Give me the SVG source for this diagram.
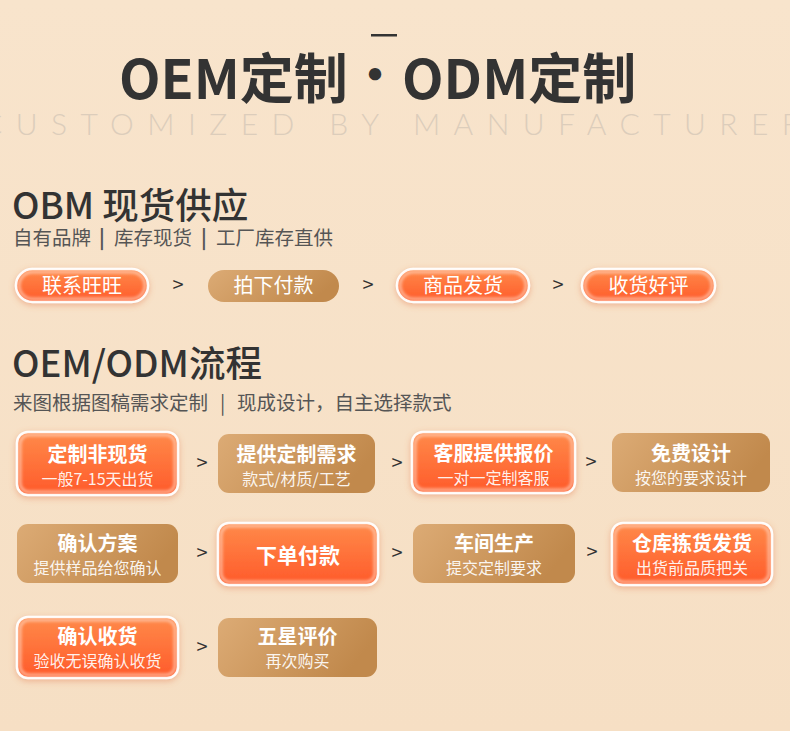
<svg xmlns="http://www.w3.org/2000/svg" width="790" height="731" viewBox="0 0 790 731">
<defs>
<linearGradient id="gOr" x1="0" y1="0" x2="0" y2="1">
<stop offset="0" stop-color="#ff8a4a"/>
<stop offset="1" stop-color="#ff5a2a"/>
</linearGradient>
<linearGradient id="gTan" x1="0" y1="0" x2="1" y2="0.3">
<stop offset="0" stop-color="#dcab75"/>
<stop offset="1" stop-color="#c1894c"/>
</linearGradient>
<linearGradient id="gBg" x1="0" y1="0" x2="0" y2="1">
<stop offset="0" stop-color="#f8e4cc"/>
<stop offset="1" stop-color="#f6dfc4"/>
</linearGradient>
<filter id="sh" x="-20%" y="-40%" width="140%" height="180%">
<feDropShadow dx="0" dy="2" stdDeviation="3" flood-color="#e5794a" flood-opacity="0.45"/>
</filter>
<filter id="blr" x="-10%" y="-20%" width="120%" height="140%">
<feGaussianBlur stdDeviation="1.6"/>
</filter>
</defs>
<style>
text{font-family:"Noto Sans CJK SC","Noto Sans",sans-serif;}
.h1{font-size:54px;font-weight:700;fill:#333333;}
.en{font-family:Lato,"Liberation Sans",sans-serif;font-size:30px;font-weight:300;fill:#dccdbb;}
.h2{font-size:36.5px;font-weight:500;fill:#333333;}
.s2{font-size:19.5px;fill:#555555;}
.or{fill:url(#gOr);stroke:#ffffff;stroke-width:2.5;}
.tan{fill:url(#gTan);}
.ig{fill:none;stroke:#ffd7c2;stroke-width:3;opacity:0.7;}
.pt{font-size:20px;fill:#ffffff;text-anchor:middle;}
.bt{font-size:20px;font-weight:700;fill:#ffffff;text-anchor:middle;}
.bs{font-size:16px;fill:#ffffff;fill-opacity:0.92;text-anchor:middle;}
.gt{font-size:20px;fill:#333333;text-anchor:middle;}
</style>
<rect x="0" y="0" width="790" height="731" fill="url(#gBg)"/>

<g id="header">
<rect x="371" y="34" width="26" height="2.5" fill="#333333"/>
<text class="h1" y="99"><tspan x="119">OEM定制</tspan><tspan x="375" dy="-7" text-anchor="middle" font-size="48">·</tspan><tspan x="402" dy="7">ODM定制</tspan></text>
<text class="en" x="-18" y="135" textLength="818" lengthAdjust="spacing">CUSTOMIZED BY MANUFACTURER</text>
</g>

<g id="section-obm">
<text class="h2" x="12" y="219">OBM 现货供应</text>
<text class="s2" y="245"><tspan x="13">自有品牌</tspan><tspan x="99" font-weight="700">|</tspan><tspan x="114">库存现货</tspan><tspan x="201" font-weight="700">|</tspan><tspan x="216">工厂库存直供</tspan></text>
</g>

<g id="section-oem">
<text class="h2" x="12" y="377">OEM/ODM流程</text>
<text class="s2" y="410"><tspan x="13">来图根据图稿需求定制</tspan><tspan x="220">|</tspan><tspan x="237">现成设计，自主选择款式</tspan></text>
</g>

<g id="connectors">
<text class="gt" x="178" y="292">&gt;</text>
<text class="gt" x="368" y="292">&gt;</text>
<text class="gt" x="558" y="292">&gt;</text>
<text class="gt" x="202" y="470">&gt;</text>
<text class="gt" x="397" y="470">&gt;</text>
<text class="gt" x="591" y="469">&gt;</text>
<text class="gt" x="202" y="560">&gt;</text>
<text class="gt" x="397" y="560">&gt;</text>
<text class="gt" x="592" y="559">&gt;</text>
<text class="gt" x="202" y="654">&gt;</text>
</g>

<g id="pill-1">
<rect class="or" x="16" y="269" width="132" height="33" rx="16.5" filter="url(#sh)"/>
<rect class="ig" x="19" y="272" width="126" height="27" rx="13.5" filter="url(#blr)"/>
<text class="pt" x="82" y="293">联系旺旺</text>
</g>
<g id="pill-2">
<rect class="tan" x="208" y="270" width="131" height="32" rx="16"/>
<text class="pt" x="273.5" y="293">拍下付款</text>
</g>
<g id="pill-3">
<rect class="or" x="397" y="269" width="132" height="33" rx="16.5" filter="url(#sh)"/>
<rect class="ig" x="400" y="272" width="126" height="27" rx="13.5" filter="url(#blr)"/>
<text class="pt" x="463" y="293">商品发货</text>
</g>
<g id="pill-4">
<rect class="or" x="582" y="269" width="133" height="33" rx="16.5" filter="url(#sh)"/>
<rect class="ig" x="585" y="272" width="127" height="27" rx="13.5" filter="url(#blr)"/>
<text class="pt" x="648.5" y="293">收货好评</text>
</g>

<g id="box-1">
<rect class="or" x="17" y="432" width="161" height="63" rx="11" filter="url(#sh)"/>
<rect class="ig" x="20" y="435" width="155" height="57" rx="9" filter="url(#blr)"/>
<text class="bt" x="97.5" y="462">定制非现货</text>
<text class="bs" x="97.5" y="485">一般7-15天出货</text>
</g>
<g id="box-2">
<rect class="tan" x="218" y="434" width="157" height="59" rx="11"/>
<text class="bt" x="296.5" y="462">提供定制需求</text>
<text class="bs" x="296.5" y="485">款式/材质/工艺</text>
</g>
<g id="box-3">
<rect class="or" x="412" y="432" width="163" height="61" rx="11" filter="url(#sh)"/>
<rect class="ig" x="415" y="435" width="157" height="55" rx="9" filter="url(#blr)"/>
<text class="bt" x="493.5" y="461">客服提供报价</text>
<text class="bs" x="493.5" y="484">一对一定制客服</text>
</g>
<g id="box-4">
<rect class="tan" x="612" y="433" width="158" height="59" rx="11"/>
<text class="bt" x="691" y="461">免费设计</text>
<text class="bs" x="691" y="484">按您的要求设计</text>
</g>

<g id="box-5">
<rect class="tan" x="17" y="524" width="161" height="59" rx="11"/>
<text class="bt" x="97.5" y="551">确认方案</text>
<text class="bs" x="97.5" y="574">提供样品给您确认</text>
</g>
<g id="box-6">
<rect class="or" x="218" y="523" width="160" height="62" rx="11" filter="url(#sh)"/>
<rect class="ig" x="221" y="526" width="154" height="56" rx="9" filter="url(#blr)"/>
<text class="bt" x="298" y="563" style="font-size:21px">下单付款</text>
</g>
<g id="box-7">
<rect class="tan" x="413" y="524" width="162" height="59" rx="11"/>
<text class="bt" x="494" y="551">车间生产</text>
<text class="bs" x="494" y="574">提交定制要求</text>
</g>
<g id="box-8">
<rect class="or" x="612" y="523" width="160" height="62" rx="11" filter="url(#sh)"/>
<rect class="ig" x="615" y="526" width="154" height="56" rx="9" filter="url(#blr)"/>
<text class="bt" x="692" y="551">仓库拣货发货</text>
<text class="bs" x="692" y="574">出货前品质把关</text>
</g>

<g id="box-9">
<rect class="or" x="17" y="617" width="161" height="61" rx="11" filter="url(#sh)"/>
<rect class="ig" x="20" y="620" width="155" height="55" rx="9" filter="url(#blr)"/>
<text class="bt" x="97.5" y="644">确认收货</text>
<text class="bs" x="97.5" y="667">验收无误确认收货</text>
</g>
<g id="box-10">
<rect class="tan" x="218" y="618" width="159" height="59" rx="11"/>
<text class="bt" x="297.5" y="644">五星评价</text>
<text class="bs" x="297.5" y="667">再次购买</text>
</g>
</svg>
